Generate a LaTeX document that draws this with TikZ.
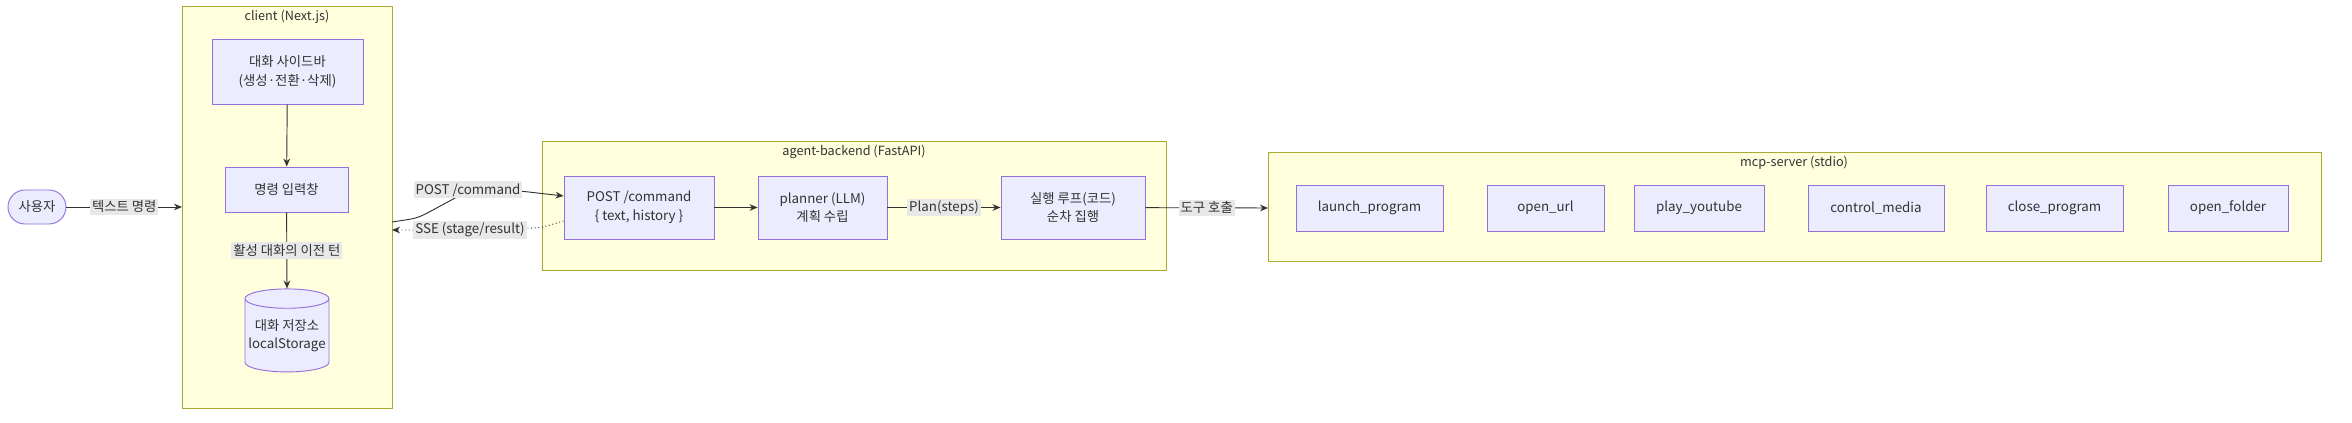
\documentclass[tikz,border=0pt]{standalone}
\usepackage{fontspec}
\setmainfont{Noto Sans CJK KR}
\usetikzlibrary{arrows.meta,shapes.geometric}
\definecolor{cfill}{HTML}{FFFFDE}
\definecolor{cdraw}{HTML}{AAAA33}
\definecolor{nfill}{HTML}{ECECFF}
\definecolor{ndraw}{HTML}{9370DB}
\definecolor{txt}{HTML}{333333}
\definecolor{lbl}{HTML}{E8E8E8}
\begin{document}
\begin{tikzpicture}[x=0.75pt,y=-0.75pt,
  font=\fontsize{10}{14}\selectfont, text=txt,
  cluster/.style={draw=cdraw,fill=cfill,line width=0.7pt},
  box/.style={draw=ndraw,fill=nfill,line width=0.7pt,align=center,inner sep=0pt},
  ttl/.style={font=\fontsize{9.5}{12}\selectfont},
  edge/.style={draw=txt,line width=0.7pt,-{Stealth[length=6pt,width=5pt]}},
  el/.style={fill=lbl,inner sep=1.5pt,font=\fontsize{10}{12}\selectfont}]
\useasboundingbox (0,0) rectangle (2352,423);
\fill[white] (0,0) rectangle (2352,423);
% clusters
\draw[cluster] (182,6) rectangle (392,408);
\node[ttl] (tc) at (287,17) {client (Next.js)};
\draw[cluster] (542,141) rectangle (1166,270);
\node[ttl] (tb) at (854,152) {agent-backend (FastAPI)};
\draw[cluster] (1268,152) rectangle (2321,261);
\node[ttl] (tm) at (1794,163) {mcp-server (stdio)};
\coordinate (cl) at (182,207);
\coordinate (crt) at (392,222);
\coordinate (crb) at (392,230);
\coordinate (ml) at (1268,208);
% nodes
\node[box,rounded corners=17*0.75pt,minimum width=58*0.75pt,minimum height=34*0.75pt] (user) at (37,207) {사용자};
\node[box,minimum width=151*0.75pt,minimum height=65*0.75pt] (side) at (287.5,71.5) {대화 사이드바\\(생성·전환·삭제)};
\node[box,minimum width=123*0.75pt,minimum height=45*0.75pt] (input) at (286.5,189.5) {명령 입력창};
\node[box,cylinder,shape border rotate=90,aspect=0.25,minimum width=84*0.75pt,minimum height=83*0.75pt] (store) at (287,335.5) {대화 저장소\\localStorage};
\node[box,minimum width=150*0.75pt,minimum height=63*0.75pt] (post) at (639,207.5) {POST /command\\\{ text, history \}};
\node[box,minimum width=129*0.75pt,minimum height=63*0.75pt] (plan) at (822.5,207.5) {planner (LLM)\\계획 수립};
\node[box,minimum width=144*0.75pt,minimum height=63*0.75pt] (exec) at (1073,207.5) {실행 루프(코드)\\순차 집행};
\foreach \n/\a/\b/\t in {t1/1296/1443/launch\_program, t2/1487/1604/open\_url, t3/1634/1764/play\_youtube, t4/1808/1944/control\_media, t5/1986/2123/close\_program, t6/2168/2288/open\_folder}
  \node[box,minimum width={(\b-\a)*0.75pt},minimum height=46*0.75pt] (\n) at ({(\a+\b)/2},208) {\t};
% edges
\draw[edge] (user) -- node[el] {텍스트 명령} (cl);
\draw[edge] (side) -- (input);
\draw[edge] (input) -- node[el] {활성 대화의 이전 턴} (store.north);
\draw[edge,rounded corners=6pt] (crt) -- (418,218) -- (470,190) -- (520,191) -- (post.west|-0,196);
\node[el] (lp) at (468,190) {POST /command};
\draw[edge,dotted,rounded corners=6pt] (post.west|-0,221) -- (540,228) -- (430,230) -- (crb);
\node[el] (ls) at (470,230) {SSE (stage/result)};
\draw[edge] (post) -- (plan);
\draw[edge] (plan) -- node[el] {Plan(steps)} (exec);
\draw[edge] (exec) -- node[el] {도구 호출} (ml);
\end{tikzpicture}
\end{document}
